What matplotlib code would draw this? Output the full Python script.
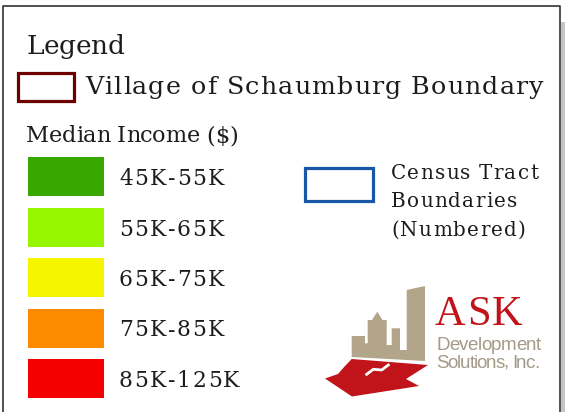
import matplotlib
matplotlib.use("Agg")
import matplotlib.pyplot as plt
from matplotlib.patches import Rectangle, Polygon
from matplotlib.font_manager import FontProperties, findfont
from matplotlib.ft2font import FT2Font

DPI = 100
W, H = 565, 412

# legend content
title = "Legend"
boundary_label = "Village of Schaumburg Boundary"
income_title = "Median Income ($)"
income_labels = ["45K-55K", "55K-65K", "65K-75K", "75K-85K", "85K-125K"]
income_colors = ["#38a800", "#98f500", "#f5f500", "#ff8c00", "#f50000"]
tract_lines = ["Census Tract", "Boundaries", "(Numbered)"]
logo_name = "ASK"
logo_sub = ["Development", "Solutions, Inc."]

SERIF = "DejaVu Serif"
LOGO_SERIF = "Liberation Serif"
SANS = "Liberation Sans"
INK = "#1c1c1c"


def advances(s, fp):
    font = FT2Font(findfont(fp))
    font.set_size(fp.get_size_in_points(), DPI)
    return [font.load_char(ord(c)).linearHoriAdvance / 65536 for c in s]


def gap_for(s, fp, width):
    return (width - sum(advances(s, fp))) / (len(s) - 1)


def tracked(ax, x, y, s, fp, gap, color=INK):
    # draw text char by char so the letter spacing of the original shows
    cx = x
    for c, a in zip(s, advances(s, fp)):
        ax.text(cx, y, c, fontproperties=fp, color=color, ha="left", va="baseline")
        cx += a + gap


fig = plt.figure(figsize=(W / DPI, H / DPI), dpi=DPI)
ax = fig.add_axes([0, 0, 1, 1])
ax.set_xlim(0, W)
ax.set_ylim(H, 0)
ax.axis("off")

# frame with a little drop shadow on the right
ax.add_patch(Rectangle((560.5, 22), 5, H - 22, color="#c4c4c4", lw=0))
ax.plot([2.5, 2.5, 559.5, 559.5], [H, 6, 6, H], color="#333333", lw=1.2)

# title
fp = FontProperties(family=SERIF, size=19)
tracked(ax, 26.5, 53.5, title, fp, gap_for(title, fp, 98))

# village boundary
ax.add_patch(Rectangle((18, 73), 56, 27.5, fill=False, ec="#6e0000", lw=2.3))
fp = FontProperties(family=SERIF, size=18.3)
tracked(ax, 85, 94, boundary_label, fp, gap_for(boundary_label, fp, 458))

# income classes
fp = FontProperties(family=SERIF, size=16.2)
tracked(ax, 26, 142.5, income_title, fp, gap_for(income_title, fp, 212))

fp = FontProperties(family=SERIF, size=15.7)
g = gap_for(income_labels[0], fp, 105)
for i, (lab, col) in enumerate(zip(income_labels, income_colors)):
    top = 157 + i * 50.5
    ax.add_patch(Rectangle((28, top), 76, 39, color=col, lw=0))
    tracked(ax, 119, top + 28, lab, fp, g)

# census tracts
ax.add_patch(Rectangle((304.5, 168), 68.5, 33, fill=False, ec="#1a56a8", lw=2.3))
fp = FontProperties(family=SERIF, size=14.3)
g = gap_for(tract_lines[0], fp, 147)
for i, line in enumerate(tract_lines):
    tracked(ax, 391, 178.5 + i * 28.5, line, fp, g)

# logo
building = [(351.7, 357), (351.7, 336), (365, 336), (365, 343.3), (367.7, 343.3),
            (367.7, 320), (372, 320), (377.3, 311.7), (382.5, 320), (386.7, 320),
            (386.7, 345), (391.7, 345), (391.7, 328.3), (400, 328.3), (400, 350),
            (406.7, 350), (406.7, 290), (425, 286), (425, 361)]
arrow = [(351.7, 359), (428, 365), (406, 379), (419, 386), (352, 396.5),
         (325, 378.5), (338, 374), (345, 366)]
ax.add_patch(Polygon(arrow, closed=True, color="#c0141a", lw=0))
ax.add_patch(Polygon(building, closed=True, color="#b3a58a", lw=0))
ax.plot([366.7, 373.3, 381.7, 388.3], [374.3, 369.3, 370, 365], color="white", lw=2)

fp = FontProperties(family=LOGO_SERIF, size=30.5)
tracked(ax, 435, 325, logo_name, fp, gap_for(logo_name, fp, 87), color="#c0141a")
fp = FontProperties(family=SANS, size=13.5)
tracked(ax, 436, 350, logo_sub[0], fp, gap_for(logo_sub[0], fp, 105), color="#a39a87")
tracked(ax, 436, 368, logo_sub[1], fp, gap_for(logo_sub[1], fp, 103), color="#a39a87")

fig.savefig("out.png", dpi=DPI)
